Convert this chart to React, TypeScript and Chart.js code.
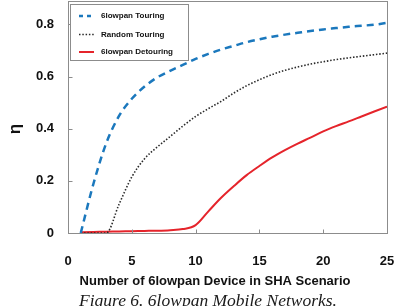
import React, { useEffect, useRef } from "react";
import { Chart, registerables } from "chart.js";

Chart.register(...registerables);

// Number of devices in the SHA scenario
const deviceCounts: number[] = [1, 2, 3, 4, 5, 6, 7, 8, 9, 10, 11, 12, 13, 14, 15, 16, 17, 18, 19, 20, 21, 22, 23, 24, 25];

// Efficiency η per scheme
const touring: number[] = [0, 0.19, 0.345, 0.449, 0.515, 0.562, 0.597, 0.622, 0.645, 0.668, 0.687, 0.704, 0.718, 0.732, 0.743, 0.753, 0.761, 0.768, 0.775, 0.781, 0.786, 0.791, 0.795, 0.799, 0.806];
const randomTouring: number[] = [0, 0, 0, 0.11, 0.215, 0.285, 0.33, 0.37, 0.41, 0.447, 0.477, 0.505, 0.537, 0.565, 0.588, 0.608, 0.624, 0.637, 0.648, 0.657, 0.665, 0.672, 0.678, 0.684, 0.69];
const detouring: number[] = [0.003, 0.004, 0.005, 0.006, 0.007, 0.008, 0.009, 0.011, 0.015, 0.03, 0.083, 0.135, 0.18, 0.222, 0.257, 0.29, 0.318, 0.343, 0.366, 0.39, 0.41, 0.428, 0.447, 0.466, 0.485];

const seriesLabels: string[] = ["6lowpan Touring", "Random Touring", "6lowpan Detouring"];

const xTicks: number[] = [0, 5, 10, 15, 20, 25];
const yTicks: number[] = [0, 0.2, 0.4, 0.6, 0.8];

const xTitle = "Number of 6lowpan Device in SHA Scenario";
const yTitle = "η";
const caption = "Figure 6. 6lowpan Mobile Networks.";

const SANS = "Arial, 'Liberation Sans', sans-serif";
const SERIF = "'Times New Roman', 'Liberation Serif', serif";
const FRAME = "#8c8c8c";

const toPoints = (ys: number[]) => deviceCounts.map((x, i) => ({ x, y: ys[i] }));

// Frame, inward ticks, legend box, axis titles and caption
const decorations = {
  id: "decorations",
  afterDatasetsDraw(chart: any) {
    const { ctx, chartArea } = chart;
    const xs = chart.scales.x;
    const ys = chart.scales.y;
    const l = Math.round(chartArea.left) + 0.5;
    const r = Math.round(chartArea.right) + 0.5;
    const t = Math.round(chartArea.top) + 0.5;
    const b = Math.round(chartArea.bottom) + 0.5;
    ctx.save();
    ctx.strokeStyle = FRAME;
    ctx.lineWidth = 1;
    ctx.setLineDash([]);
    ctx.strokeRect(l, t, r - l, b - t);
    ctx.beginPath();
    xTicks.slice(1, -1).forEach((v) => {
      const px = Math.round(xs.getPixelForValue(v)) + 0.5;
      ctx.moveTo(px, b);
      ctx.lineTo(px, b - 4);
    });
    yTicks.slice(1).forEach((v) => {
      const py = Math.round(ys.getPixelForValue(v)) + 0.5;
      ctx.moveTo(l, py);
      ctx.lineTo(l + 4, py);
    });
    ctx.stroke();

    // legend
    const lx = 70.5, ly = 4.5, lw = 118, lh = 56;
    ctx.fillStyle = "#ffffff";
    ctx.fillRect(lx, ly, lw, lh);
    ctx.strokeStyle = FRAME;
    ctx.strokeRect(lx, ly, lw, lh);
    const rows = [16, 34.5, 52];
    chart.data.datasets.forEach((ds: any, i: number) => {
      const y = rows[i];
      ctx.save();
      ctx.strokeStyle = ds.borderColor;
      ctx.lineWidth = ds.borderWidth;
      ctx.setLineDash(ds.legendDash || ds.borderDash || []);
      ctx.beginPath();
      ctx.moveTo(79, y);
      ctx.lineTo(94, y);
      ctx.stroke();
      ctx.restore();
      ctx.fillStyle = "#111";
      ctx.font = `bold 8px ${SANS}`;
      ctx.textAlign = "left";
      ctx.textBaseline = "middle";
      ctx.fillText(ds.label, 101, y);
    });

    // axis titles
    ctx.fillStyle = "#111";
    ctx.font = `bold 13px ${SANS}`;
    ctx.textAlign = "center";
    ctx.textBaseline = "alphabetic";
    ctx.fillText(xTitle, 215, 285);

    ctx.save();
    ctx.translate(15, 129);
    ctx.rotate(-Math.PI / 2);
    ctx.font = `bold 17px ${SANS}`;
    ctx.textAlign = "center";
    ctx.textBaseline = "middle";
    ctx.fillText(yTitle, 0, 0);
    ctx.restore();

    ctx.font = `italic 17.5px ${SERIF}`;
    ctx.textAlign = "left";
    ctx.fillStyle = "#1a1a1a";
    ctx.fillText(caption, 79, 306);
    ctx.restore();
  },
};

export default function App() {
  const canvasRef = useRef<HTMLCanvasElement | null>(null);

  useEffect(() => {
    if (!canvasRef.current) return;
    const chart = new Chart(canvasRef.current, {
      type: "line",
      data: {
        datasets: [
          {
            label: seriesLabels[0],
            data: toPoints(touring),
            borderColor: "#1b78bd",
            borderWidth: 2.5,
            borderDash: [7, 5],
            legendDash: [4, 4],
            pointRadius: 0,
            cubicInterpolationMode: "monotone",
          } as any,
          {
            label: seriesLabels[1],
            data: toPoints(randomTouring),
            borderColor: "#2a2a2a",
            borderWidth: 1.6,
            borderDash: [1.5, 1.8],
            pointRadius: 0,
            cubicInterpolationMode: "monotone",
          },
          {
            label: seriesLabels[2],
            data: toPoints(detouring),
            borderColor: "#e5242b",
            borderWidth: 2,
            pointRadius: 0,
            cubicInterpolationMode: "monotone",
          },
        ],
      },
      options: {
        responsive: false,
        animation: false,
        layout: { padding: { left: 0, top: 1, right: 7, bottom: 0 } },
        plugins: {
          legend: { display: false },
          tooltip: { enabled: false },
        },
        scales: {
          x: {
            type: "linear",
            min: 0,
            max: 25,
            grid: { display: false, drawTicks: false },
            border: { display: false },
            afterFit: (scale: any) => {
              scale.height = 73;
              scale.paddingLeft = 0;
              scale.paddingRight = 0;
            },
            afterBuildTicks: (scale: any) => {
              scale.ticks = xTicks.map((value) => ({ value }));
            },
            ticks: {
              padding: 21,
              color: "#111",
              font: { family: SANS, size: 13, weight: "bold" },
              maxRotation: 0,
              callback: (v: any) => String(v),
            },
          },
          y: {
            min: 0,
            max: 0.89,
            grid: { display: false, drawTicks: false },
            border: { display: false },
            afterFit: (scale: any) => {
              scale.width = 68;
              scale.paddingTop = 0;
              scale.paddingBottom = 0;
            },
            afterBuildTicks: (scale: any) => {
              scale.ticks = yTicks.map((value) => ({ value }));
            },
            ticks: {
              padding: 14,
              color: "#111",
              font: { family: SANS, size: 13, weight: "bold" },
              callback: (v: any) => (v === 0 ? "0" : Number(v).toFixed(1)),
            },
          },
        },
      },
      plugins: [decorations],
    });
    return () => chart.destroy();
  }, []);

  return (
    <div style={{ position: "fixed", left: 0, top: 0, width: 394, height: 306, background: "#fff" }}>
      <canvas ref={canvasRef} width={394} height={306} />
    </div>
  );
}
